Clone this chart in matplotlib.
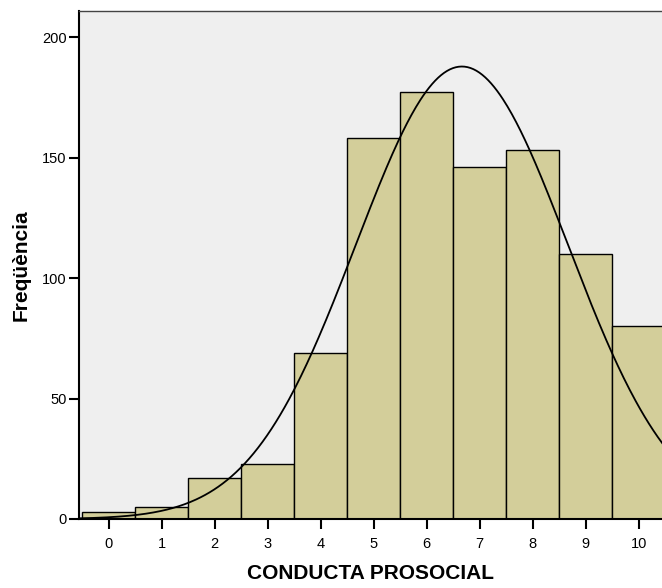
import numpy as np
import matplotlib.pyplot as plt

# puntuacions i freqüències
valors = [0, 1, 2, 3, 4, 5, 6, 7, 8, 9, 10]
freq = [3, 5, 17, 23, 69, 158, 177, 146, 153, 110, 80]
yticks = [0, 50, 100, 150, 200]

plt.rcParams['font.family'] = ['Liberation Sans', 'DejaVu Sans']

W, H = 662, 588
fig = plt.figure(figsize=(W / 100, H / 100), dpi=100)
ax = fig.add_axes([79 / W, (H - 519) / H, (W - 79) / W, (519 - 11) / H])
ax.set_facecolor('#efefef')

ax.bar(valors, freq, width=1.0, color='#d3ce9a', edgecolor='black', linewidth=1.0, zorder=2)

# corba normal amb la mitjana i desviació de les dades
x = np.array(valors, dtype=float)
f = np.array(freq, dtype=float)
n = f.sum()
mu = (x * f).sum() / n
sd = np.sqrt(((x - mu) ** 2 * f).sum() / (n - 1))
xs = np.linspace(-0.6, 10.5, 400)
ys = n / (sd * np.sqrt(2 * np.pi)) * np.exp(-0.5 * ((xs - mu) / sd) ** 2)
ax.plot(xs, ys, color='black', linewidth=1.3, zorder=3)

ax.set_xlim(-0.557, 10.44)
ax.set_ylim(0, 210.8)
ax.set_xticks(valors)
ax.set_yticks(yticks)
ax.tick_params(direction='out', length=7, width=1.5, labelsize=10.5, colors='black')
ax.tick_params(axis='x', pad=6)
ax.tick_params(axis='y', pad=2)
for s in ['left', 'bottom']:
    ax.spines[s].set_linewidth(1.5)
ax.spines['top'].set_linewidth(1.0)
ax.spines['top'].set_color('#444444')
ax.spines['right'].set_visible(False)

ax.set_xlabel('CONDUCTA PROSOCIAL', fontsize=15, fontweight='bold', labelpad=9.5)
ax.set_ylabel('Freqüència', fontsize=15, fontweight='bold', labelpad=8)

fig.savefig('out.png', dpi=100)
